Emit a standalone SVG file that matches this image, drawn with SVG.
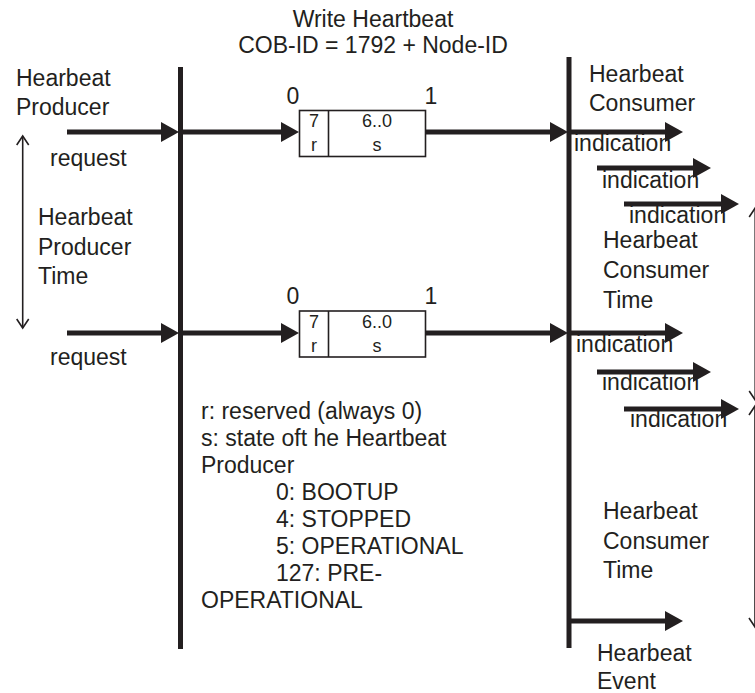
<svg xmlns="http://www.w3.org/2000/svg" width="755" height="693" viewBox="0 0 755 693">
<style>
text{font-family:"Liberation Sans",Arial,sans-serif;font-size:23px;fill:#231f20}
.sm{font-size:18px}
.mid{text-anchor:middle}
.bus{stroke:#231f20;stroke-width:5;fill:none}
.arr{stroke:#231f20;stroke-width:5;fill:none;marker-end:url(#head)}
.thin{stroke:#231f20;stroke-width:1.6;fill:none;marker-start:url(#open);marker-end:url(#open)}
.box{fill:#fff;stroke:#231f20;stroke-width:1.6}
</style>
<defs>
<marker id="head" markerUnits="userSpaceOnUse" markerWidth="19" markerHeight="22" refX="6" refY="11" orient="auto" viewBox="0 0 19 22">
<path d="M0,1 L18,11 L0,21 z" fill="#231f20"/>
</marker>
<marker id="open" markerUnits="userSpaceOnUse" markerWidth="14" markerHeight="14" refX="11" refY="7" orient="auto-start-reverse" viewBox="0 0 14 14">
<path d="M2,1 L11,7 L2,13" fill="none" stroke="#231f20" stroke-width="1.6"/>
</marker>
</defs>

<g id="title">
<text class="mid" x="373" y="27">Write Heartbeat</text>
<text class="mid" x="373" y="53">COB-ID = 1792 + Node-ID</text>
</g>

<g id="producer">
<text x="16" y="86">Hearbeat</text>
<text x="16" y="115">Producer</text>
<text x="50" y="166">request</text>
<text x="38" y="225">Hearbeat</text>
<text x="38" y="255">Producer</text>
<text x="38" y="284">Time</text>
<text x="50" y="365">request</text>
</g>

<g id="frame1">
<text class="mid" x="293" y="104">0</text>
<text class="mid" x="431" y="104">1</text>
<rect class="box" x="299.5" y="110.5" width="126" height="46"/>
<line class="box" x1="328.5" y1="110.5" x2="328.5" y2="156.5"/>
<text class="sm mid" x="314" y="127">7</text>
<text class="sm mid" x="314" y="151">r</text>
<text class="sm mid" x="377" y="127">6..0</text>
<text class="sm mid" x="377" y="151">s</text>
</g>

<g id="frame2">
<text class="mid" x="293" y="304">0</text>
<text class="mid" x="431" y="304">1</text>
<rect class="box" x="299.5" y="311" width="126" height="46"/>
<line class="box" x1="328.5" y1="311" x2="328.5" y2="357"/>
<text class="sm mid" x="314" y="328">7</text>
<text class="sm mid" x="314" y="352">r</text>
<text class="sm mid" x="377" y="328">6..0</text>
<text class="sm mid" x="377" y="352">s</text>
</g>

<g id="consumer">
<text x="589" y="82">Hearbeat</text>
<text x="589" y="111">Consumer</text>
<text x="574" y="151">indication</text>
<text x="602" y="188">indication</text>
<text x="629" y="223">indication</text>
<text x="603" y="248">Hearbeat</text>
<text x="603" y="278">Consumer</text>
<text x="603" y="308">Time</text>
<text x="576" y="352">indication</text>
<text x="602" y="390">indication</text>
<text x="630" y="427">indication</text>
<text x="603" y="519">Hearbeat</text>
<text x="603" y="549">Consumer</text>
<text x="603" y="578">Time</text>
<text x="597" y="661">Hearbeat</text>
<text x="597" y="689">Event</text>
</g>

<g id="legend">
<text x="201" y="419">r: reserved (always 0)</text>
<text x="201" y="446">s: state oft he Heartbeat</text>
<text x="201" y="473">Producer</text>
<text x="276" y="500">0: BOOTUP</text>
<text x="276" y="527">4: STOPPED</text>
<text x="276" y="554">5: OPERATIONAL</text>
<text x="276" y="581">127: PRE-</text>
<text x="201" y="608">OPERATIONAL</text>
</g>

<g id="connectors">
<line class="bus" x1="180.5" y1="67" x2="180.5" y2="649"/>
<line class="bus" x1="569" y1="57" x2="569" y2="648"/>
<line class="arr" x1="67" y1="132" x2="167" y2="132"/>
<line class="arr" x1="182" y1="132" x2="287" y2="132"/>
<line class="arr" x1="426" y1="132" x2="556" y2="132"/>
<line class="arr" x1="569" y1="132" x2="671" y2="132"/>
<line class="arr" x1="597" y1="168" x2="699" y2="168"/>
<line class="arr" x1="624" y1="204" x2="727" y2="204"/>
<line class="arr" x1="67" y1="333" x2="167" y2="333"/>
<line class="arr" x1="182" y1="333" x2="287" y2="333"/>
<line class="arr" x1="426" y1="333" x2="556" y2="333"/>
<line class="arr" x1="569" y1="333" x2="671" y2="333"/>
<line class="arr" x1="597" y1="372" x2="699" y2="372"/>
<line class="arr" x1="624" y1="409" x2="727" y2="409"/>
<line class="arr" x1="569" y1="621" x2="671" y2="621"/>
<line class="thin" x1="22.7" y1="136" x2="22.7" y2="328"/>
<line class="thin" x1="755.2" y1="208" x2="755.2" y2="400"/>
<line class="thin" x1="755" y1="406" x2="755" y2="627"/>
</g>
</svg>
